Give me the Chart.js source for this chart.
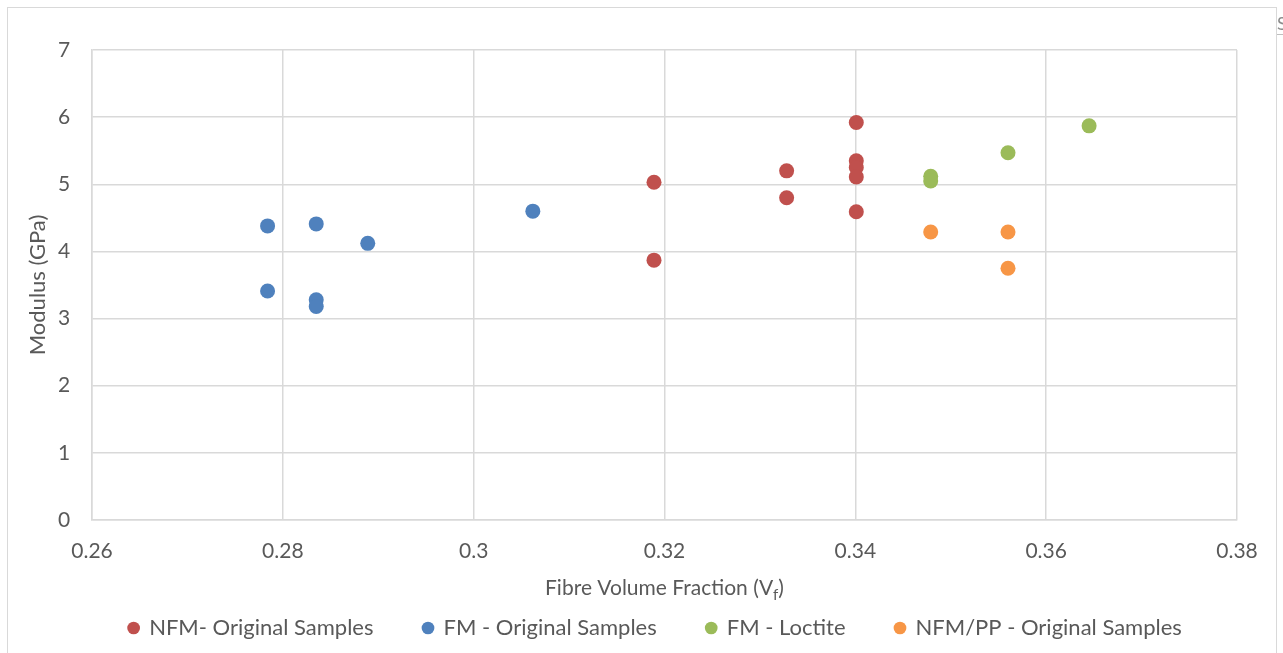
<!DOCTYPE html>
<html>
<head>
<meta charset="utf-8">
<script src="https://cdn.jsdelivr.net/npm/chart.js@4/dist/chart.umd.min.js"></script>
<style>
  html, body { margin: 0; padding: 0; background: #fff; }
  #wrap { position: relative; width: 1283px; height: 653px; overflow: hidden; }
  #frame { position: absolute; left: 7px; top: 7px; width: 1268px; height: 700px;
           border: 1px solid #d9d9d9; pointer-events: none; }
  #cut { position: absolute; left: 1277px; top: 12px; width: 6px; height: 22px; overflow: hidden;
         font: 18px Lato, sans-serif; color: #8c8c8c; border-bottom: 1px solid #bfbfbf; }
  canvas { position: absolute; left: 0; top: 0; }
</style>
</head>
<body>
<div id="wrap">
  <canvas id="modulusChart" width="1283" height="653"></canvas>
  <div id="frame"></div>
  <div id="cut">S</div>
</div>
<script>
// valeurs
const nfmX = [0.3189, 0.3189, 0.3328, 0.3328, 0.3401, 0.3401, 0.3401, 0.3401, 0.3401];
const nfmY = [5.03, 3.87, 5.20, 4.80, 5.92, 5.35, 5.25, 5.11, 4.59];

const fmX = [0.2784, 0.2784, 0.2835, 0.2835, 0.2835, 0.2889, 0.3062];
const fmY = [4.38, 3.41, 4.41, 3.28, 3.18, 4.12, 4.60];

const loctiteX = [0.3479, 0.3479, 0.3560, 0.3645];
const loctiteY = [5.12, 5.05, 5.47, 5.87];

const ppX = [0.3479, 0.3560, 0.3560];
const ppY = [4.29, 4.29, 3.75];

const xTicks = [0.26, 0.28, 0.30, 0.32, 0.34, 0.36, 0.38];
const yTicks = [0, 1, 2, 3, 4, 5, 6, 7];

const FONT = 'Lato, "Open Sans", sans-serif';
const TXT = '#595959';
const GRID = '#d9d9d9';

function toPoints(xs, ys) {
    return xs.map((x, i) => ({ x: x, y: ys[i] }));
}

function serie(label, xs, ys, color) {
    return {
        label: label,
        data: toPoints(xs, ys),
        backgroundColor: color,
        borderColor: color,
        borderWidth: 0,
        pointRadius: 7.5,
        pointHoverRadius: 7.5
    };
}

// titres d'axes dessinés à la main (indice f sur V)
const axisTitles = {
    id: 'axisTitles',
    afterDraw(chart) {
        const ctx = chart.ctx;
        const area = chart.chartArea;
        ctx.save();
        ctx.fillStyle = TXT;
        ctx.textBaseline = 'alphabetic';

        // titre X
        const big = '21px ' + FONT;
        const small = '15px ' + FONT;
        const a = 'Fibre Volume Fraction (V';
        const b = 'f';
        const c = ')';
        ctx.font = big;
        const wa = ctx.measureText(a).width;
        const wc = ctx.measureText(c).width;
        ctx.font = small;
        const wb = ctx.measureText(b).width;
        let x = (area.left + area.right) / 2 - (wa + wb + wc) / 2;
        const base = 595;
        ctx.font = big;
        ctx.textAlign = 'left';
        ctx.fillText(a, x, base);
        x += wa;
        ctx.font = small;
        ctx.fillText(b, x, base + 5);
        x += wb;
        ctx.font = big;
        ctx.fillText(c, x, base);

        // titre Y
        ctx.translate(45, (area.top + area.bottom) / 2);
        ctx.rotate(-Math.PI / 2);
        ctx.textAlign = 'center';
        ctx.font = '22px ' + FONT;
        ctx.fillText('Modulus (GPa)', 0, 0);
        ctx.restore();
    }
};

const ctx = document.getElementById('modulusChart').getContext('2d');
new Chart(ctx, {
    type: 'scatter',
    data: {
        datasets: [
            serie('NFM- Original Samples', nfmX, nfmY, '#C0504D'),
            serie('FM - Original Samples', fmX, fmY, '#4F81BD'),
            serie('FM - Loctite', loctiteX, loctiteY, '#9BBB59'),
            serie('NFM/PP - Original Samples', ppX, ppY, '#F79646')
        ]
    },
    plugins: [axisTitles],
    options: {
        responsive: false,
        animation: false,
        events: [],
        layout: {
            padding: { left: 74, right: 46, top: 50, bottom: 4 }
        },
        scales: {
            x: {
                type: 'linear',
                min: xTicks[0],
                max: xTicks[xTicks.length - 1],
                afterBuildTicks: axis => { axis.ticks = xTicks.map(v => ({ value: v })); },
                afterFit: axis => { axis.height = 47; },
                ticks: {
                    color: TXT,
                    font: { family: FONT, size: 21 },
                    padding: 19,
                    maxRotation: 0,
                    callback: v => String(parseFloat(v.toFixed(2)))
                },
                grid: { color: GRID, lineWidth: 1.5, drawTicks: false },
                border: { color: GRID, width: 1.5 }
            },
            y: {
                type: 'linear',
                min: yTicks[0],
                max: yTicks[yTicks.length - 1],
                afterBuildTicks: axis => { axis.ticks = yTicks.map(v => ({ value: v })); },
                afterFit: axis => { axis.width = 18; },
                ticks: {
                    color: TXT,
                    font: { family: FONT, size: 21 },
                    mirror: true,
                    padding: -34
                },
                grid: { color: GRID, lineWidth: 1.5, drawTicks: false },
                border: { color: GRID, width: 1.5 }
            }
        },
        plugins: {
            tooltip: { enabled: false },
            legend: {
                position: 'bottom',
                labels: {
                    usePointStyle: true,
                    pointStyle: 'circle',
                    boxWidth: 9,
                    boxHeight: 9,
                    padding: 50,
                    color: TXT,
                    font: { family: FONT, size: 22 }
                }
            }
        }
    }
});
</script>
</body>
</html>
